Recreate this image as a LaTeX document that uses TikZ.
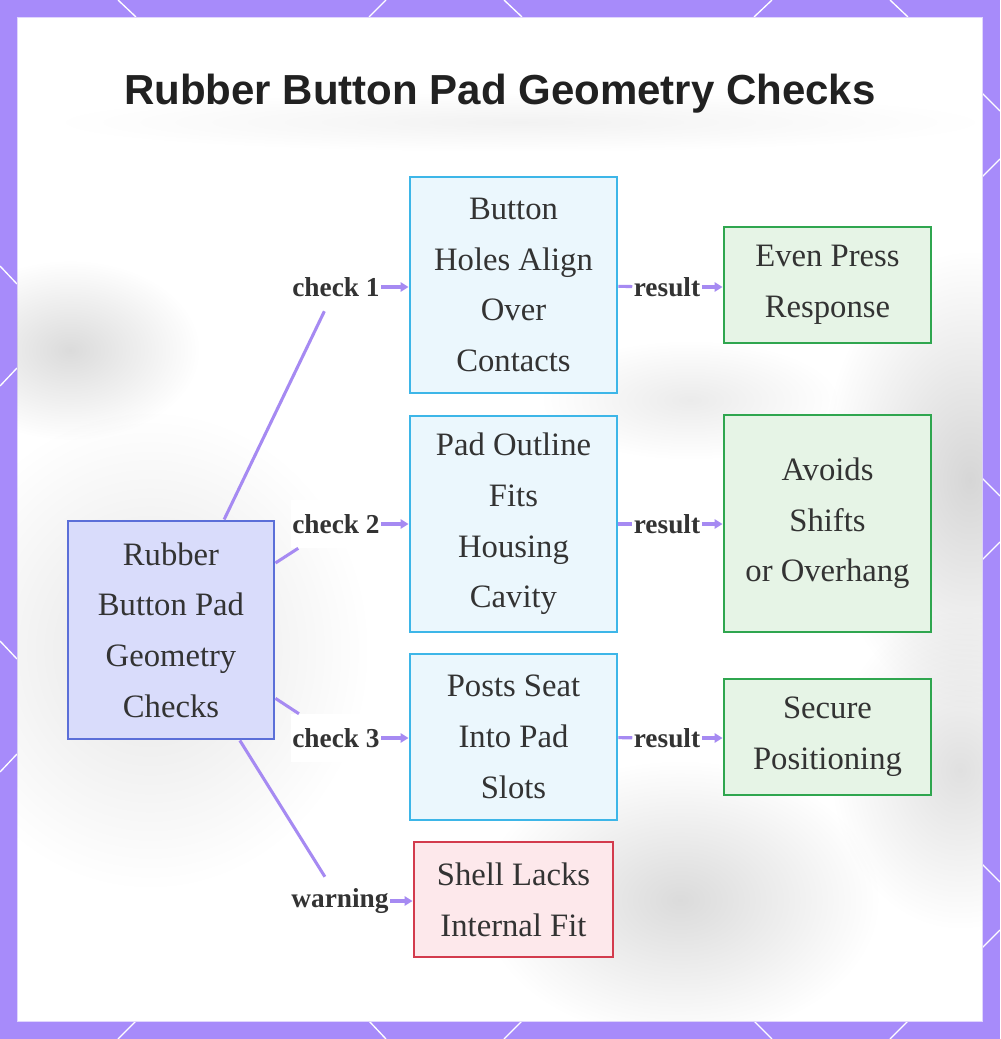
\documentclass[tikz,border=0pt]{standalone}
\usepackage{fontspec}
\setmainfont{Liberation Serif}
\newfontfamily\titlefont{Liberation Sans}
\usetikzlibrary{arrows.meta,fadings}
\definecolor{FramePurple}{HTML}{A78BFA}
\definecolor{LinkPurple}{HTML}{A68AF2}
\definecolor{RootFill}{HTML}{D9DCFB}
\definecolor{RootLine}{HTML}{5B6FD8}
\definecolor{StepFill}{HTML}{EBF7FD}
\definecolor{StepLine}{HTML}{3DB6E8}
\definecolor{GoodFill}{HTML}{E6F4E6}
\definecolor{GoodLine}{HTML}{2FA64F}
\definecolor{WarnFill}{HTML}{FDE8EB}
\definecolor{WarnLine}{HTML}{D33B4D}
\definecolor{InkGray}{HTML}{333333}
\tikzfading[name=softblob,inner color=transparent!0,outer color=transparent!100]
\tikzset{>={Triangle[length=6pt,width=7pt]},box/.style={draw,line width=2.2pt,
 align=center,text=InkGray,inner sep=0pt,font=\fontsize{24.5}{38}\selectfont},
 rootbox/.style={box,draw=RootLine,fill=RootFill,minimum width=154.5pt,minimum height=163.5pt},
 checkbox/.style={box,draw=StepLine,fill=StepFill,minimum width=155.25pt},
 goodbox/.style={box,draw=GoodLine,fill=GoodFill,minimum width=155.25pt},
 warnbox/.style={box,draw=WarnLine,fill=WarnFill,minimum width=149.25pt,minimum height=86.25pt},
 lab/.style={fill=white,text=InkGray,inner xsep=1pt,inner ysep=0pt,minimum height=36pt,
 font=\fontsize{20.5}{24}\selectfont\bfseries},
 link/.style={draw=LinkPurple,line width=2.3pt},
 blur/.style={fill=black,path fading=softblob,fill opacity=#1}}
\begin{document}
\begin{tikzpicture}[x=0.75pt,y=-0.75pt]
\useasboundingbox (0,0) rectangle (1000,1039);
% frame
\fill[FramePurple] (0,0) rectangle (1000,1039);
\foreach \xa/\xb in {118/136,386/369,504/522,772/754,890/908}
 {\draw[white,line width=1pt] (\xa,0)--(\xb,17);\draw[white,line width=1pt] (\xa,1039)--(\xb,1021);}
\foreach \ya/\yb in {266/284,386/368,641/659,772/754}
 {\draw[white,line width=1pt] (0,\ya)--(17,\yb);}
\foreach \ya/\yb in {93/111,177/159,478/496,560/542,864/882,948/930}
 {\draw[white,line width=1pt] (982,\ya)--(1000,\yb);}
\fill[white,draw=FramePurple!35] (17,17) rectangle (982,1021);
% blurred backdrop
\begin{scope}
\clip (17,17) rectangle (982,1021);
\path[blur=.05] (520,122) ellipse (470 and 30);
\path[blur=.14] (70,350) ellipse (130 and 90);
\path[blur=.10] (150,650) ellipse (220 and 240);
\path[blur=.16] (970,480) ellipse (150 and 230);
\path[blur=.12] (960,770) ellipse (130 and 160);
\path[blur=.14] (680,900) ellipse (200 and 140);
\path[blur=.08] (690,400) ellipse (150 and 60);
\end{scope}
\node[font=\titlefont\fontsize{31.5}{36}\selectfont\bfseries,text=black!87] (title) at (500,94)
 {Rubber Button Pad Geometry Checks};
% boxes
\node[rootbox] (root) at (171,630) {Rubber\\Button Pad\\Geometry\\Checks};
\node[checkbox,minimum height=162pt] (hole) at (513.5,285) {Button\\Holes Align\\Over\\Contacts};
\node[checkbox,minimum height=162pt] (outline) at (513.5,524) {Pad Outline\\Fits\\Housing\\Cavity};
\node[checkbox,minimum height=124.5pt] (posts) at (513.5,737) {Posts Seat\\Into Pad\\Slots};
\node[warnbox] (shell) at (513.5,899.5) {Shell Lacks\\Internal Fit};
\node[goodbox,minimum height=87pt] (press) at (827.5,285) {Even Press\\Response};
\node[goodbox,minimum height=162.75pt] (shift) at (827.5,523.5) {Avoids\\Shifts\\or Overhang};
\node[goodbox,minimum height=87pt] (seat) at (827.5,737) {Secure\\Positioning};
% labels
\node[lab] (c1) at (336,287) {check 1};
\node[lab] (c2) at (336,524) {check 2};
\node[lab] (c3) at (336,738) {check 3};
\node[lab] (warn) at (340,901) {warning};
\node[lab] (r1) at (667,287) {result};
\node[lab] (r2) at (667,524) {result};
\node[lab] (r3) at (667,738) {result};
% links
\draw[link] (root)--(c1);\draw[link,->] (c1.east)--(c1.east-|hole.west);
\draw[link] (root)--(c2);\draw[link,->] (c2.east)--(c2.east-|outline.west);
\draw[link] (root)--(c3);\draw[link,->] (c3.east)--(c3.east-|posts.west);
\draw[link] (root)--(warn);\draw[link,->] (warn.east)--(warn.east-|shell.west);
\draw[link] (hole)--(r1);\draw[link,->] (r1.east)--(r1.east-|press.west);
\draw[link] (outline)--(r2);\draw[link,->] (r2.east)--(r2.east-|shift.west);
\draw[link] (posts)--(r3);\draw[link,->] (r3.east)--(r3.east-|seat.west);
\end{tikzpicture}
\end{document}
